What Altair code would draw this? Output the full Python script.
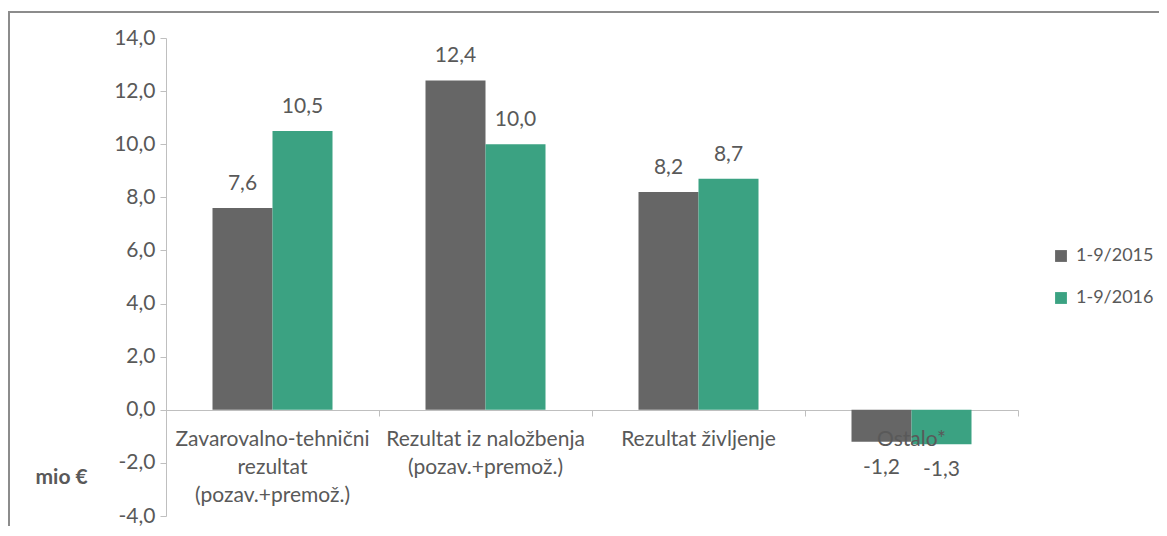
import altair as alt
import pandas as pd

categories = [
    "Zavarovalno-tehnični\nrezultat\n(pozav.+premož.)",
    "Rezultat iz naložbenja\n(pozav.+premož.)",
    "Rezultat življenje",
    "Ostalo*",
]
series = ["1-9/2015", "1-9/2016"]
values_2015 = [7.6, 12.4, 8.2, -1.2]
values_2016 = [10.5, 10.0, 8.7, -1.3]
colors = ["#666666", "#3BA282"]

rows = []
for c, v in zip(categories, values_2015):
    rows.append({"cat": c, "series": series[0], "value": v})
for c, v in zip(categories, values_2016):
    rows.append({"cat": c, "series": series[1], "value": v})
df = pd.DataFrame(rows)
cat_df = pd.DataFrame({"cat": categories})

W, H = 852, 478
FONT = "Lato"
TXT = "#595959"
FS = 21
FMT = "replace(replace(format(datum.value, '.1f'), '.', ','), '\u2212', '-')"

xscale = alt.Scale(domain=categories, paddingInner=0, paddingOuter=0)
yscale = alt.Scale(domain=[-4, 14], nice=False)
color = alt.Color(
    "series:N",
    scale=alt.Scale(domain=series, range=colors),
    legend=alt.Legend(
        title=None, orient="none", legendX=886, legendY=209,
        symbolType="square", symbolSize=140, symbolStrokeWidth=0,
        labelFontSize=18, labelColor=TXT, labelFont=FONT, labelOffset=6,
        rowPadding=24, padding=0,
    ),
)

base = alt.Chart(df)

bars = base.mark_bar().encode(
    x=alt.X(
        "cat:N", scale=xscale, sort=categories, title=None,
        axis=alt.Axis(
            labels=False, offset=-106, tickBand="extent", tickSize=6,
            domainColor="#BFBFBF", tickColor="#BFBFBF", domainWidth=1.2,
        ),
    ),
    xOffset=alt.XOffset("series:N", sort=series,
                        scale=alt.Scale(paddingInner=0, paddingOuter=0.775)),
    y=alt.Y(
        "value:Q", scale=yscale,
        axis=alt.Axis(
            values=[-4, -2, 0, 2, 4, 6, 8, 10, 12, 14],
            labelExpr=FMT,
            grid=False, tickSize=6, labelPadding=5,
            labelFontSize=FS, labelColor=TXT, labelFont=FONT,
            domainColor="#BFBFBF", tickColor="#BFBFBF",
            title="mio €", titleAngle=0, titleX=-131, titleY=439,
            titleAlign="left", titleBaseline="middle",
            titleFontSize=FS, titleFontWeight="bold", titleColor=TXT, titleFont=FONT,
        ),
    ),
    color=color,
)

lbl = base.transform_calculate(txt=FMT)
pos_labels = lbl.transform_filter("datum.value >= 0").mark_text(
    dy=-24, fontSize=FS, color=TXT, font=FONT, baseline="middle"
).encode(
    x=alt.X("cat:N", scale=xscale, sort=categories),
    xOffset=alt.XOffset("series:N", sort=series),
    y="value:Q",
    text="txt:N",
)
neg_labels = lbl.transform_filter("datum.value < 0").mark_text(
    dy=26, fontSize=FS, color=TXT, font=FONT, baseline="middle"
).encode(
    x=alt.X("cat:N", scale=xscale, sort=categories),
    xOffset=alt.XOffset("series:N", sort=series),
    y="value:Q",
    text="txt:N",
)

cat_labels = alt.Chart(cat_df).mark_text(
    baseline="top", dy=19, fontSize=FS, color=TXT, font=FONT,
    lineBreak="\n", lineHeight=28,
).encode(
    x=alt.X("cat:N", scale=xscale, sort=categories),
    y=alt.datum(0),
    text="cat:N",
)

frame = alt.Chart(pd.DataFrame({"a": [0]})).mark_rect(
    fill=None, stroke="#8C8C8C", strokeWidth=2
).encode(
    x=alt.value(-157), x2=alt.value(W + 300),
    y=alt.value(-26), y2=alt.value(H + 200),
)

chart = alt.layer(frame, bars, pos_labels, neg_labels, cat_labels).properties(
    width=W, height=H,
    autosize=alt.AutoSizeParams(type="none"),
    padding={"left": 158, "top": 30, "right": 141, "bottom": 10},
).configure_view(stroke=None)

chart.save("out.html", embed_options={"renderer": "svg", "actions": False})
